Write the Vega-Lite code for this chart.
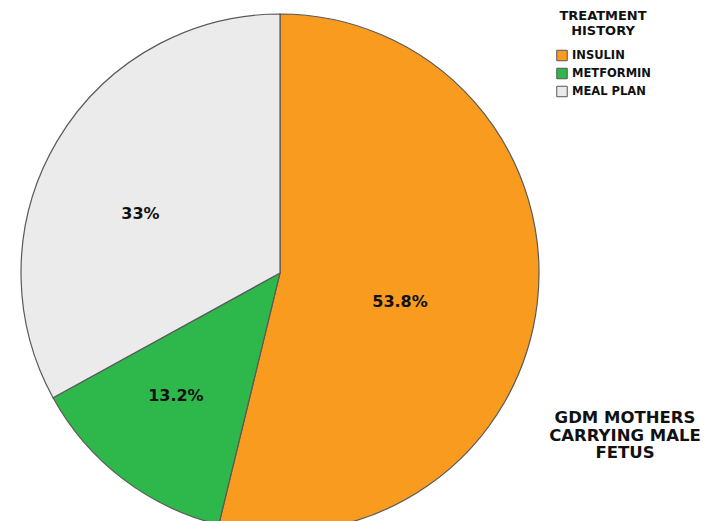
{
  "$schema": "https://vega.github.io/schema/vega-lite/v6.json",
  "width": 560,
  "height": 546,
  "padding": 0,
  "autosize": {"type": "pad"},
  "background": "white",
  "view": {"stroke": null},
  "title": {
    "text": ["GDM MOTHERS", "CARRYING MALE", "FETUS"],
    "orient": "bottom",
    "anchor": "end",
    "align": "center",
    "baseline": "top",
    "frame": "group",
    "dx": 65,
    "dy": -136,
    "offset": 0,
    "font": "DejaVu Sans",
    "fontSize": 16.5,
    "fontWeight": "bold",
    "lineHeight": 17.5,
    "color": "#111111"
  },
  "data": {
    "values": [
      {"treatment": "INSULIN", "share": 0.538, "idx": 1},
      {"treatment": "METFORMIN", "share": 0.132, "idx": 2},
      {"treatment": "MEAL PLAN", "share": 0.33, "idx": 3}
    ]
  },
  "encoding": {
    "theta": {"field": "share", "type": "quantitative", "stack": true},
    "order": {"field": "idx", "type": "quantitative"}
  },
  "layer": [
    {
      "mark": {"type": "arc", "outerRadius": 259, "stroke": "#5a5a5a", "strokeWidth": 1.2},
      "encoding": {
        "color": {
          "field": "treatment",
          "type": "nominal",
          "sort": ["INSULIN", "METFORMIN", "MEAL PLAN"],
          "scale": {"domain": ["INSULIN", "METFORMIN", "MEAL PLAN"], "range": ["#F99B1E", "#2EB84C", "#EBEBEB"]},
          "legend": {
            "title": ["TREATMENT", "HISTORY"],
            "orient": "none",
            "legendX": 556,
            "legendY": 10,
            "titleFont": "DejaVu Sans",
            "titleFontSize": 13,
            "titleFontWeight": "bold",
            "titleColor": "#111111",
            "titleAnchor": "middle",
            "titleAlign": "center",
            "titleLineHeight": 14.5,
            "titlePadding": 12,
            "labelFont": "DejaVu Sans",
            "labelFontSize": 11.5,
            "labelFontWeight": "bold",
            "labelColor": "#111111",
            "labelOffset": 4,
            "symbolType": "square",
            "symbolSize": 110,
            "symbolStrokeColor": "#555555",
            "symbolStrokeWidth": 1,
            "rowPadding": 2
          }
        }
      }
    },
    {
      "mark": {"type": "text", "radius": 140, "dx": -19, "dy": 12, "font": "DejaVu Sans", "fontSize": 16, "fontWeight": "bold", "color": "#111111"},
      "encoding": {
        "text": {"field": "share", "type": "quantitative", "format": ".1~%"}
      }
    }
  ]
}
